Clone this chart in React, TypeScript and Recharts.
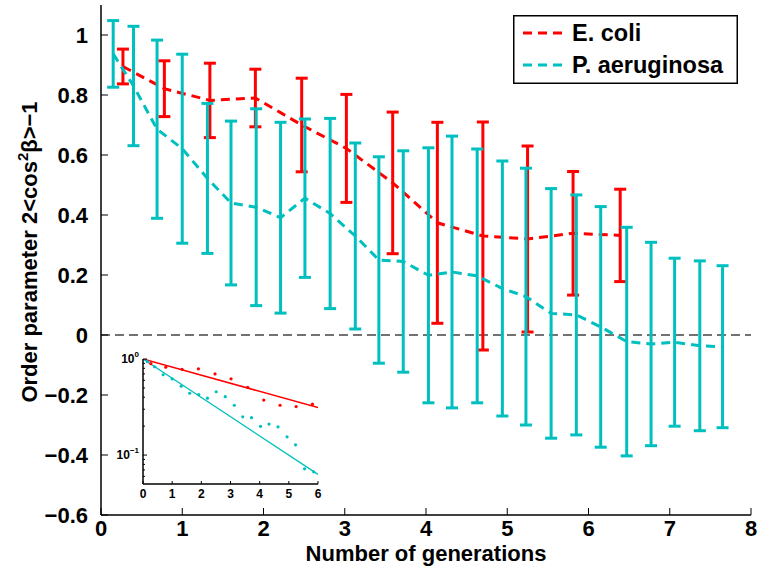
import React from "react";
import { ComposedChart, Line, Scatter, XAxis, YAxis, ErrorBar, ReferenceLine, Label } from "recharts";

const FONT = "'Liberation Sans', Arial, Helvetica, sans-serif";
const RED = "#ff0000";
const CYAN = "#00bfbf";

// main plot ticks
const xTicks = [0, 1, 2, 3, 4, 5, 6, 7, 8];
const yTicks = [-0.6, -0.4, -0.2, 0, 0.2, 0.4, 0.6, 0.8, 1];

// E. coli: generation, mean order parameter, half error bar
const ecoliX = [0.27, 0.78, 1.34, 1.9, 2.47, 3.02, 3.59, 4.14, 4.7, 5.25, 5.81, 6.39];
const ecoliMean = [0.895, 0.821, 0.782, 0.79, 0.7, 0.622, 0.507, 0.374, 0.33, 0.32, 0.339, 0.332];
const ecoliErr = [0.058, 0.093, 0.124, 0.096, 0.156, 0.18, 0.236, 0.335, 0.38, 0.31, 0.206, 0.154];

// P. aeruginosa
const paX = [0.15, 0.4, 0.69, 1.0, 1.31, 1.6, 1.91, 2.21, 2.51, 2.82, 3.13, 3.42, 3.72, 4.03, 4.32, 4.63, 4.94, 5.23, 5.54, 5.85, 6.15, 6.47, 6.77, 7.06, 7.37, 7.65];
const paMean = [0.937, 0.83, 0.686, 0.621, 0.522, 0.44, 0.426, 0.391, 0.456, 0.405, 0.33, 0.25, 0.245, 0.199, 0.21, 0.197, 0.155, 0.128, 0.072, 0.067, 0.027, -0.022, -0.03, -0.024, -0.036, -0.039];
const paErr = [0.111, 0.199, 0.297, 0.315, 0.25, 0.273, 0.328, 0.318, 0.264, 0.317, 0.31, 0.344, 0.369, 0.425, 0.453, 0.423, 0.425, 0.428, 0.416, 0.4, 0.401, 0.381, 0.339, 0.28, 0.283, 0.27];

// inset (log scale) ticks and exponential fits
const insetXTicks = [0, 1, 2, 3, 4, 5, 6];
const insetYTicks = [0.06, 0.07, 0.08, 0.09, 0.1, 0.2, 0.3, 0.4, 0.5, 0.6, 0.7, 0.8, 0.9, 1];
const insetLabels: Record<string, string> = { "0.1": "−1", "1": "0" };
const fitX = [0, 6];
const ecoliFit = [1, 0.312];
const paFit = [1, 0.063];

const ecoliData = ecoliX.map((x, i) => ({ x, y: ecoliMean[i], err: ecoliErr[i] }));
const paData = paX.map((x, i) => ({ x, y: paMean[i], err: paErr[i] }));
const ecoliInset = ecoliData.filter((d) => d.x <= 6 && d.y > 0);
const paInset = paData.filter((d) => d.x <= 6 && d.y > 0);
const ecoliFitData = fitX.map((x, i) => ({ x, y: ecoliFit[i] }));
const paFitData = fitX.map((x, i) => ({ x, y: paFit[i] }));

const fmt = (v: number) => String(Math.round(v * 10) / 10).replace("-", "\u2212");

const BottomTick = (props: any) => {
  const { x, y, payload } = props;
  return (
    <g>
      <line x1={x} x2={x} y1={y} y2={y - 7} stroke="#000" />
      <text x={x} y={y + 21} textAnchor="middle" fontSize={22} fontWeight="bold" fontFamily={FONT} fill="#000">
        {payload.value}
      </text>
    </g>
  );
};

const LeftTick = (props: any) => {
  const { x, y, payload } = props;
  return (
    <g>
      <line x1={x} x2={x + 7} y1={y} y2={y} stroke="#000" />
      <text x={x - 13} y={y + 8} textAnchor="end" fontSize={22} fontWeight="bold" fontFamily={FONT} fill="#000">
        {fmt(payload.value)}
      </text>
    </g>
  );
};

const TopTick = (props: any) => (
  <line x1={props.x} x2={props.x} y1={props.y} y2={props.y + 7} stroke="#000" />
);

const RightTick = (props: any) => (
  <line x1={props.x} x2={props.x - 7} y1={props.y} y2={props.y} stroke="#000" />
);

// inset ticks
const InsetBottomTick = (props: any) => {
  const { x, y, payload } = props;
  return (
    <g>
      <line x1={x} x2={x} y1={y} y2={y - 3} stroke="#000" />
      <text x={x} y={y + 14} textAnchor="middle" fontSize={12} fontWeight="bold" fontFamily={FONT} fill="#000">
        {payload.value}
      </text>
    </g>
  );
};

const InsetTopTick = (props: any) => (
  <line x1={props.x} x2={props.x} y1={props.y} y2={props.y + 3} stroke="#000" />
);

const InsetLeftTick = (props: any) => {
  const { x, y, payload } = props;
  const label = insetLabels[String(payload.value)];
  return (
    <g>
      <line x1={x} x2={x + (label ? 4 : 2)} y1={y} y2={y} stroke="#000" />
      {label && (
        <text x={x - 4} y={y + 4} textAnchor="end" fontSize={12} fontWeight="bold" fontFamily={FONT} fill="#000">
          10
          <tspan dy={-6} fontSize={8}>{label}</tspan>
        </text>
      )}
    </g>
  );
};

const InsetRightTick = (props: any) => {
  const { x, y, payload } = props;
  const major = !!insetLabels[String(payload.value)];
  return <line x1={x} x2={x - (major ? 4 : 2)} y1={y} y2={y} stroke="#000" />;
};

const dotShape = (color: string) => (props: any) => <circle cx={props.cx} cy={props.cy} r={1.6} fill={color} />;

const axisLine = { stroke: "#000", strokeWidth: 1.5 };

const Inset = () => (
  <ComposedChart width={225} height={155} margin={{ top: 9, right: 7, bottom: 0, left: 0 }}>
    <XAxis type="number" dataKey="x" domain={[0, 6]} ticks={insetXTicks} height={21} tickSize={0} tickMargin={0}
      tickLine={false} axisLine={axisLine} tick={<InsetBottomTick />} allowDataOverflow />
    <XAxis xAxisId="top" orientation="top" type="number" dataKey="x" domain={[0, 6]} ticks={insetXTicks} height={0}
      tickSize={0} tickMargin={0} tickLine={false} axisLine={axisLine} tick={<InsetTopTick />} allowDataOverflow />
    <YAxis type="number" scale="log" domain={[0.05, 1]} ticks={insetYTicks} width={43} tickSize={0} tickMargin={0}
      tickLine={false} axisLine={axisLine} tick={<InsetLeftTick />} allowDataOverflow interval={0} />
    <YAxis yAxisId="right" orientation="right" type="number" scale="log" domain={[0.05, 1]} ticks={insetYTicks} width={0}
      tickSize={0} tickMargin={0} tickLine={false} axisLine={axisLine} tick={<InsetRightTick />} allowDataOverflow interval={0} />
    <Line data={ecoliFitData} dataKey="y" stroke={RED} strokeWidth={1.5} dot={false} isAnimationActive={false} />
    <Line data={paFitData} dataKey="y" stroke={CYAN} strokeWidth={1.3} dot={false} isAnimationActive={false} />
    <Scatter data={ecoliInset} dataKey="y" shape={dotShape(RED)} isAnimationActive={false} />
    <Scatter data={paInset} dataKey="y" shape={dotShape(CYAN)} isAnimationActive={false} />
  </ComposedChart>
);

const LegendBox = () => (
  <svg width={225} height={69} style={{ position: "absolute", left: 513, top: 15 }}>
    <rect x={0.75} y={0.75} width={223.5} height={67.5} fill="#fff" stroke="#000" strokeWidth={1.5} />
    <line x1={10} x2={54} y1={18} y2={18} stroke={RED} strokeWidth={3} strokeDasharray="9 6" />
    <text x={59} y={26} fontSize={23.5} fontWeight="bold" fontFamily={FONT} fill="#000">E. coli</text>
    <line x1={10} x2={54} y1={50} y2={50} stroke={CYAN} strokeWidth={3} strokeDasharray="9 6" />
    <text x={59} y={58} fontSize={23.5} fontWeight="bold" fontFamily={FONT} fill="#000">P. aeruginosa</text>
  </svg>
);

const App = () => (
  <div style={{ position: "absolute", left: 0, top: 0, width: 760, height: 573, background: "#fff" }}>
    <ComposedChart width={760} height={573} margin={{ top: 5, right: 9, bottom: 0, left: 0 }}>
      <XAxis type="number" dataKey="x" domain={[0, 8]} ticks={xTicks} height={58} tickSize={0} tickMargin={0}
        tickLine={false} axisLine={axisLine} tick={<BottomTick />} allowDataOverflow interval={0}>
        <Label content={() => (
          <text x={426} y={561} textAnchor="middle" fontSize={22} fontWeight="bold" fontFamily={FONT} fill="#000">
            Number of generations
          </text>
        )} />
      </XAxis>
      <XAxis xAxisId="top" orientation="top" type="number" dataKey="x" domain={[0, 8]} ticks={xTicks} height={0}
        tickSize={0} tickMargin={0} tickLine={false} axisLine={axisLine} tick={<TopTick />} allowDataOverflow interval={0} />
      <YAxis type="number" domain={[-0.6, 1.1]} ticks={yTicks} width={101} tickSize={0} tickMargin={0}
        tickLine={false} axisLine={axisLine} tick={<LeftTick />} allowDataOverflow interval={0}>
        <Label content={() => (
          <text transform="translate(37,252) rotate(-90)" textAnchor="middle" fontSize={22} fontWeight="bold" fontFamily={FONT} fill="#000">
            Order parameter 2&lt;cos<tspan dy={-9} fontSize={15}>2</tspan><tspan dy={9}>β&gt;−1</tspan>
          </text>
        )} />
      </YAxis>
      <YAxis yAxisId="right" orientation="right" type="number" domain={[-0.6, 1.1]} ticks={yTicks} width={0}
        tickSize={0} tickMargin={0} tickLine={false} axisLine={axisLine} tick={<RightTick />} allowDataOverflow interval={0} />
      <ReferenceLine y={0} stroke="#444" strokeWidth={1.5} strokeDasharray="9 5" />
      <Line data={ecoliData} dataKey="y" name="E. coli" stroke={RED} strokeWidth={3} strokeDasharray="9 6"
        dot={false} isAnimationActive={false}>
        <ErrorBar dataKey="err" direction="y" width={6} strokeWidth={3} stroke={RED} />
      </Line>
      <Line data={paData} dataKey="y" name="P. aeruginosa" stroke={CYAN} strokeWidth={3} strokeDasharray="9 6"
        dot={false} isAnimationActive={false}>
        <ErrorBar dataKey="err" direction="y" width={6} strokeWidth={3} stroke={CYAN} />
      </Line>
    </ComposedChart>
    <LegendBox />
    <div style={{ position: "absolute", left: 100, top: 350 }}>
      <Inset />
    </div>
  </div>
);

export default App;
